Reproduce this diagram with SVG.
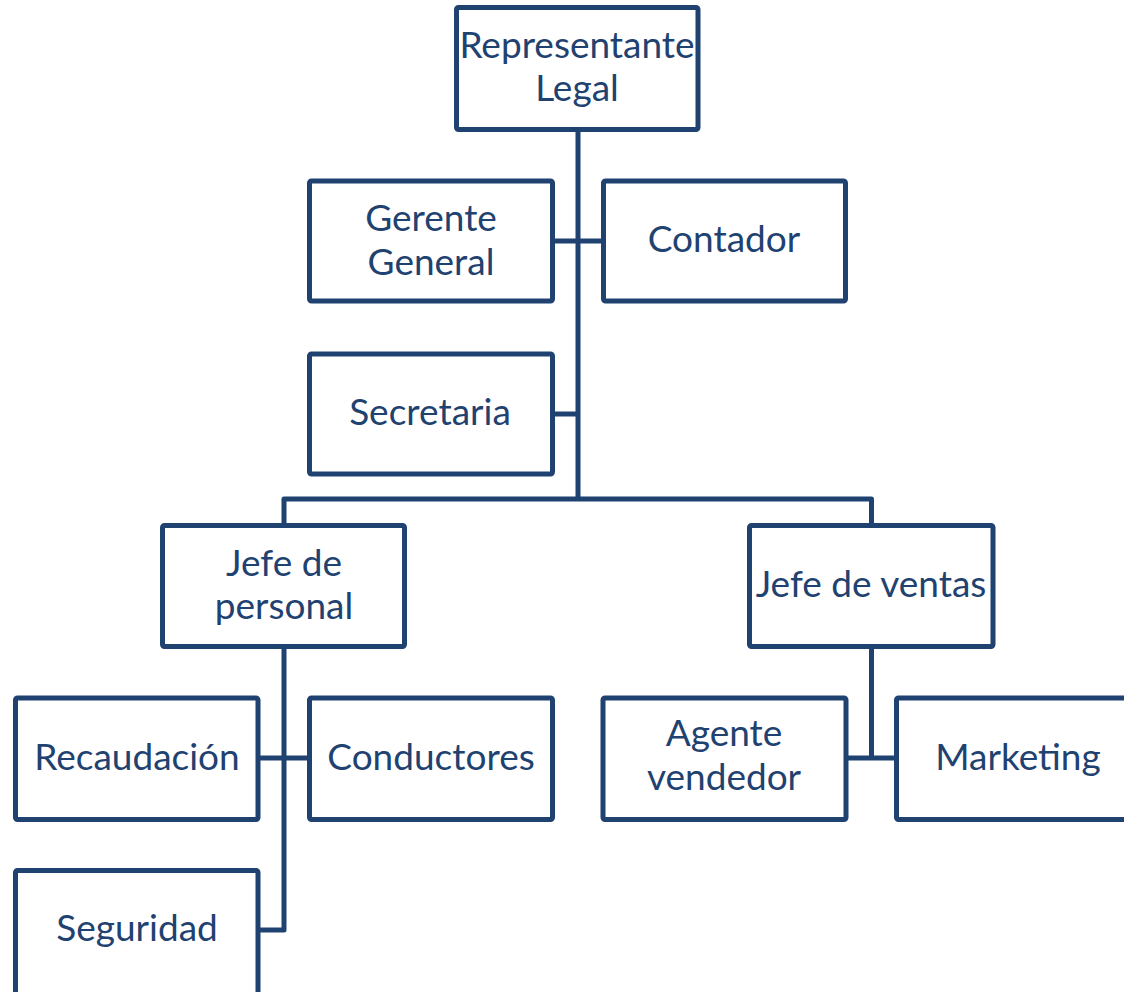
<svg xmlns="http://www.w3.org/2000/svg" width="1124" height="992" viewBox="0 0 1124 992">
<style>
.box{fill:#fff;stroke:#1f4270;stroke-width:5;stroke-linejoin:round}
.ln{fill:none;stroke:#1f4270;stroke-width:5;stroke-linejoin:round}
.t{font-family:Lato,"Open Sans",sans-serif;font-size:37px;fill:#1f4270;text-anchor:middle}
</style>
<rect width="1124" height="992" fill="#fff"/>
<g id="connectors">
<path class="ln" d="M578 130V499"/>
<path class="ln" d="M552 241H603"/>
<path class="ln" d="M552 414H578"/>
<path class="ln" d="M284 525V499H871.5V525"/>
<path class="ln" d="M284 648V930H258"/>
<path class="ln" d="M258 758H309"/>
<path class="ln" d="M871.5 648V758"/>
<path class="ln" d="M846 758H896"/>
</g>
<g id="representante"><rect class="box" x="456.5" y="7.5" width="241.5" height="122" rx="2"/><text class="t" x="577" y="58">Representante</text><text class="t" x="577" y="101">Legal</text></g>
<g id="gerente"><rect class="box" x="309.5" y="181" width="243" height="120" rx="2"/><text class="t" x="431" y="231">Gerente</text><text class="t" x="431" y="275">General</text></g>
<g id="contador"><rect class="box" x="603.5" y="181" width="242" height="120" rx="2"/><text class="t" x="724" y="252">Contador</text></g>
<g id="secretaria"><rect class="box" x="309.5" y="354" width="243" height="120" rx="2"/><text class="t" x="430" y="425">Secretaria</text></g>
<g id="jefe-personal"><rect class="box" x="162.5" y="525.5" width="242" height="121" rx="2"/><text class="t" x="284" y="576">Jefe de</text><text class="t" x="284" y="619">personal</text></g>
<g id="jefe-ventas"><rect class="box" x="749.5" y="525.5" width="243.5" height="121" rx="2"/><text class="t" x="871" y="597">Jefe de ventas</text></g>
<g id="recaudacion"><rect class="box" x="15.5" y="698" width="242.5" height="121.5" rx="2"/><text class="t" x="137" y="770">Recaudación</text></g>
<g id="conductores"><rect class="box" x="309.5" y="698" width="243" height="121.5" rx="2"/><text class="t" x="431" y="770">Conductores</text></g>
<g id="seguridad"><rect class="box" x="15.5" y="870.5" width="242.5" height="140" rx="2"/><text class="t" x="137" y="941">Seguridad</text></g>
<g id="agente"><rect class="box" x="603" y="698" width="243" height="121.5" rx="2"/><text class="t" x="724" y="746">Agente</text><text class="t" x="724" y="790">vendedor</text></g>
<g id="marketing"><rect class="box" x="896.5" y="698" width="260" height="121.5" rx="2"/><text class="t" x="1018" y="770">Marketing</text></g>
</svg>
